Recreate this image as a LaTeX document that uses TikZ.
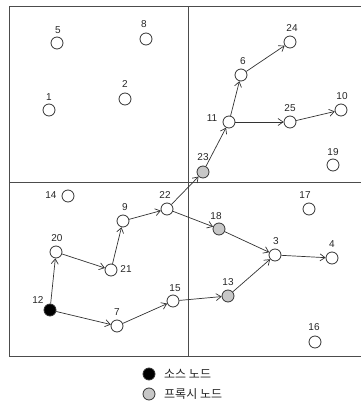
\documentclass[tikz,border=0pt]{standalone}
\usepackage{fontspec}
\setmainfont{Liberation Sans}
\newfontfamily\kr{Noto Sans CJK KR}
\usetikzlibrary{arrows.meta}
\begin{document}
\begin{tikzpicture}[x=1pt,y=-1pt,
  nd/.style={circle,draw=black!80,line width=0.8pt,fill=white,minimum size=12pt,inner sep=0pt},
  px/.style={nd,fill=black!22},
  src/.style={nd,fill=black},
  lb/.style={font=\fontsize{10}{10}\selectfont,text=black!85,inner sep=0pt},
  lg/.style={anchor=west,inner sep=0pt,font=\kr\fontsize{12}{12}\selectfont,text=black!85},
  ed/.style={draw=black!80,line width=0.7pt,-{Straight Barb[length=5pt,width=7pt]}},
  frame/.style={draw=black!70,line width=1pt}]
\useasboundingbox (0,0) rectangle (361,404);
% frame
\coordinate (tl) at (9,7); \coordinate (tr) at (361,7);
\coordinate (bl) at (9,356); \coordinate (br) at (361,356);
\coordinate (vt) at (188,7); \coordinate (vb) at (188,356);
\coordinate (hl) at (9,182); \coordinate (hr) at (361,182);
\draw[frame] (tr) -- (tl) -- (bl) -- (br);
\draw[frame] (vt) -- (vb);
\draw[frame] (hl) -- (hr);
% nodes
\node[nd] (n5) at (57,43) {}; \node[lb] at (58,30) {5};
\node[nd] (n8) at (146,39) {}; \node[lb] at (144,24) {8};
\node[nd] (n1) at (49,110) {}; \node[lb] at (49,97) {1};
\node[nd] (n2) at (125,99) {}; \node[lb] at (125,84) {2};
\node[nd] (n24) at (290,42) {}; \node[lb] at (292,28) {24};
\node[nd] (n6) at (241,75) {}; \node[lb] at (243,61) {6};
\node[nd] (n11) at (229,122) {}; \node[lb] at (212,118) {11};
\node[nd] (n25) at (290,122) {}; \node[lb] at (290,108) {25};
\node[nd] (n10) at (341,110) {}; \node[lb] at (342,96) {10};
\node[nd] (n19) at (333,165) {}; \node[lb] at (333,152) {19};
\node[px] (n23) at (203,172) {}; \node[lb] at (203,157) {23};
\node[nd] (n14) at (68,196) {}; \node[lb] at (51,195) {14};
\node[nd] (n22) at (167,209) {}; \node[lb] at (165,195) {22};
\node[nd] (n9) at (123,221) {}; \node[lb] at (125,207) {9};
\node[nd] (n20) at (56,252) {}; \node[lb] at (57,238) {20};
\node[nd] (n21) at (111,270) {}; \node[lb] at (126,269) {21};
\node[src] (n12) at (50,310) {}; \node[lb] at (38,300) {12};
\node[nd] (n7) at (117,326) {}; \node[lb] at (117,312) {7};
\node[nd] (n15) at (173,301) {}; \node[lb] at (175,288) {15};
\node[px] (n18) at (219,229) {}; \node[lb] at (216,216) {18};
\node[nd] (n3) at (275,255) {}; \node[lb] at (276,241) {3};
\node[nd] (n4) at (332,258) {}; \node[lb] at (332,244) {4};
\node[px] (n13) at (228,296) {}; \node[lb] at (228,282) {13};
\node[nd] (n17) at (309,209) {}; \node[lb] at (305,195) {17};
\node[nd] (n16) at (315,342) {}; \node[lb] at (314,327) {16};
% edges
\draw[ed] (n12) -- (n20);
\draw[ed] (n20) -- (n21);
\draw[ed] (n21) -- (n9);
\draw[ed] (n9) -- (n22);
\draw[ed] (n22) -- (n23);
\draw[ed] (n23) -- (n11);
\draw[ed] (n11) -- (n6);
\draw[ed] (n6) -- (n24);
\draw[ed] (n11) -- (n25);
\draw[ed] (n25) -- (n10);
\draw[ed] (n22) -- (n18);
\draw[ed] (n18) -- (n3);
\draw[ed] (n3) -- (n4);
\draw[ed] (n12) -- (n7);
\draw[ed] (n7) -- (n15);
\draw[ed] (n15) -- (n13);
\draw[ed] (n13) -- (n3);
% legend
\node[src] (ls) at (149,374) {};
\node[lg] (lst) at (164,374) {소스 노드};
\node[px] (lp) at (149,394) {};
\node[lg] (lpt) at (164,394) {프록시 노드};
\end{tikzpicture}
\end{document}
